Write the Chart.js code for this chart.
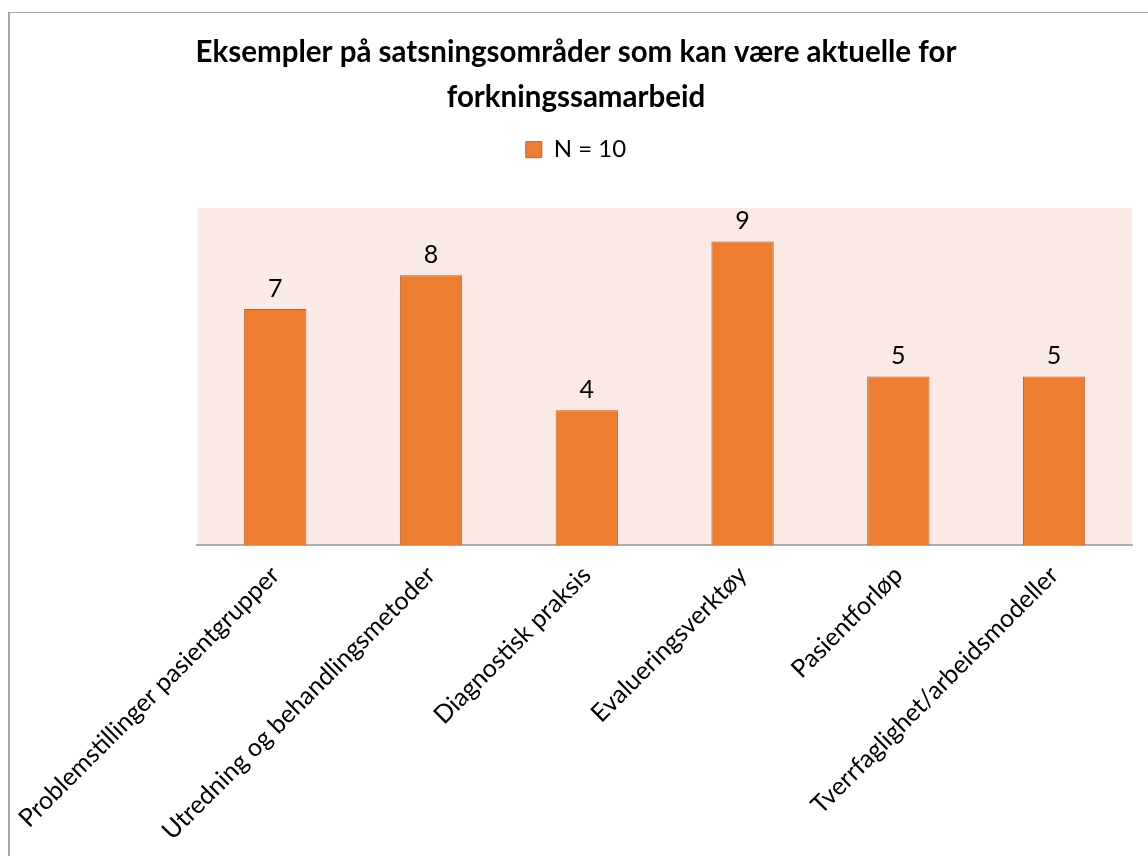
<!DOCTYPE html>
<html>
<head>
<meta charset="utf-8">
<script src="https://cdn.jsdelivr.net/npm/chart.js@4"></script>
<style>
  html, body { margin: 0; padding: 0; background: #fff; overflow: hidden; }
  #frame { position: absolute; left: 8px; top: 12px; width: 1300px; height: 843px;
           border-top: 1px solid #a6a6a6; border-left: 2px solid #a6a6a6; }
  #wrap { position: absolute; left: 0; top: 0; width: 1148px; height: 861px; }
</style>
</head>
<body>
<div id="frame"></div>
<div id="wrap"><canvas id="myChart"></canvas></div>
<script>
// chart data
const categories = [
  'Problemstillinger pasientgrupper',
  'Utredning og behandlingsmetoder',
  'Diagnostisk praksis',
  'Evalueringsverktøy',
  'Pasientforløp',
  'Tverrfaglighet/arbeidsmodeller'
];
const counts = [7, 8, 4, 9, 5, 5];
const seriesName = 'N = 10';
const titleLines = ['Eksempler på satsningsområder som kan være aktuelle for', 'forkningssamarbeid'];

const FONT = 'Lato';

// pink plot background
const plotBackground = {
  id: 'plotBackground',
  beforeDraw(chart) {
    const a = chart.chartArea;
    const ctx = chart.ctx;
    ctx.save();
    ctx.fillStyle = '#fae9e4';
    ctx.fillRect(a.left, a.top, a.right - a.left, a.bottom - a.top);
    ctx.restore();
  }
};

// numbers above the bars
const valueLabels = {
  id: 'valueLabels',
  afterDatasetsDraw(chart) {
    const ctx = chart.ctx;
    const meta = chart.getDatasetMeta(0);
    ctx.save();
    ctx.font = '25px ' + FONT;
    ctx.fillStyle = '#000';
    ctx.textAlign = 'center';
    ctx.textBaseline = 'bottom';
    meta.data.forEach(function (bar, i) {
      ctx.fillText(String(counts[i]), bar.x, bar.y - 8);
    });
    ctx.restore();
  }
};

// extra space under the legend
const legendGap = {
  id: 'legendGap',
  beforeInit(chart) {
    const fit = chart.legend.fit;
    chart.legend.fit = function () {
      fit.bind(chart.legend)();
      this.height += 36;
    };
  }
};

window.onload = function () {
  loadChart();
};

function loadChart() {
  new Chart(document.getElementById('myChart'), {
    type: 'bar',
    data: {
      labels: categories,
      datasets: [{
        label: seriesName,
        data: counts,
        backgroundColor: '#ed7d31',
        borderColor: '#b9622a',
        borderWidth: 1,
        categoryPercentage: 1,
        barPercentage: 0.4
      }]
    },
    options: {
      responsive: true,
      maintainAspectRatio: false,
      animation: false,
      layout: { padding: { left: 20, right: 16, top: 0, bottom: 8 } },
      scales: {
        x: {
          grid: { display: false },
          border: { color: '#adadad', width: 2 },
          ticks: {
            autoSkip: false,
            minRotation: 45,
            maxRotation: 45,
            padding: 7,
            color: '#000',
            font: { family: FONT, size: 25 }
          }
        },
        y: {
          display: true,
          min: 0,
          max: 10,
          grid: { display: false },
          border: { display: false },
          ticks: { display: false },
          afterFit(scale) { scale.width = 176; }
        }
      },
      plugins: {
        title: {
          display: true,
          text: titleLines,
          color: '#000',
          font: { family: FONT, size: 29.5, weight: 'bold', lineHeight: 1.52 },
          padding: { top: 30, bottom: 8 }
        },
        legend: {
          display: true,
          labels: {
            color: '#000',
            boxWidth: 16,
            boxHeight: 16,
            font: { family: FONT, size: 24 }
          }
        },
        tooltip: { enabled: false }
      }
    },
    plugins: [plotBackground, valueLabels, legendGap]
  });
}
</script>
</body>
</html>
